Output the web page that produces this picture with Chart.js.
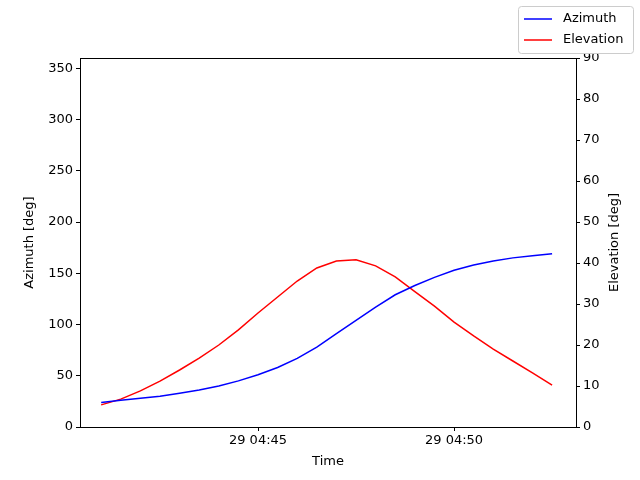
<!DOCTYPE html>
<html><head>
<script src="https://cdn.jsdelivr.net/npm/chart.js@4.4.1/dist/chart.umd.min.js"></script>
<style>html,body{margin:0;background:#fff}#wrap{width:640px;height:480px}</style>
</head><body><div id="wrap"><canvas id="c" width="640" height="480"></canvas></div>
<script>
// minutes after 04:00 on day 29, one sample every 30 s
const minutes = Array.from({length:24}, (_, i) => 41 + i * 0.5);
const azimuth = [24,26,28,30,33,36,40,45,51,58,67,78,91,104,117,129,138,146,153,158,162,165,167,169];
const elevation = [5.4,6.8,8.8,11.2,13.9,16.8,20,23.7,27.8,31.7,35.6,38.8,40.5,40.8,39.3,36.6,33,29.5,25.6,22.2,19,16.1,13.2,10.2];
const timeTicks = [45, 50];
const azTicks = [0,50,100,150,200,250,300,350];
const elTicks = [0,10,20,30,40,50,60,70,80,90];

const font = {family:"DejaVu Sans", size:13};
const pts = arr => arr.map((v,i) => ({x: minutes[i], y: v}));
const grid = {drawOnChartArea:false, color:"#000", tickLength:4, tickWidth:1};

const decorations = {
  id: "decorations",
  afterDraw(chart) {
    const ctx = chart.ctx, a = chart.chartArea;
    ctx.save();
    ctx.strokeStyle = "#000"; ctx.lineWidth = 1;
    ctx.beginPath(); ctx.moveTo(a.left, a.top + 0.5); ctx.lineTo(a.right, a.top + 0.5); ctx.stroke();
    ctx.font = "13px DejaVu Sans"; ctx.fillStyle = "#000";
    ctx.textAlign = "center"; ctx.textBaseline = "middle";
    ctx.fillText("Time", (a.left + a.right) / 2, 462);
    [["Azimuth [deg]", 30], ["Elevation [deg]", 615]].forEach(([t, x]) => {
      ctx.save(); ctx.translate(x, (a.top + a.bottom) / 2); ctx.rotate(-Math.PI / 2);
      ctx.fillText(t, 0, 0); ctx.restore();
    });
    // legend
    ctx.fillStyle = "#fff"; ctx.strokeStyle = "#ccc";
    ctx.beginPath(); ctx.roundRect(518.5, 6.5, 115, 47, 3); ctx.fill(); ctx.stroke();
    ctx.textAlign = "left"; ctx.fillStyle = "#000";
    [["Azimuth", "blue", 19], ["Elevation", "red", 40]].forEach(([t, c, y]) => {
      ctx.strokeStyle = c; ctx.lineWidth = 1.5;
      ctx.beginPath(); ctx.moveTo(524, y); ctx.lineTo(552, y); ctx.stroke();
      ctx.fillText(t, 563, y);
    });
    ctx.restore();
  }
};

new Chart(document.getElementById("c"), {
  type: "line",
  data: { datasets: [
    {label:"Azimuth", data: pts(azimuth), borderColor:"blue", borderWidth:1.5, pointRadius:0, yAxisID:"y"},
    {label:"Elevation", data: pts(elevation), borderColor:"red", borderWidth:1.5, pointRadius:0, yAxisID:"y1"}
  ]},
  options: {
    responsive:false, animation:false,
    layout:{padding:{top:58, left:0, right:0, bottom:0}},
    plugins:{legend:{display:false}, tooltip:{enabled:false}},
    scales:{
      x:{type:"linear", min:40.46, max:53.11,
        afterBuildTicks: s => { s.ticks = timeTicks.map(v => ({value:v})); },
        afterFit: s => { s.height = 53; },
        ticks:{font, color:"#000", padding:2, maxRotation:0, callback: v => "29 04:" + String(v).padStart(2,"0")},
        grid, border:{color:"#000"}},
      y:{position:"left", min:0, max:360,
        afterBuildTicks: s => { s.ticks = azTicks.map(v => ({value:v})); },
        afterFit: s => { s.width = 80; },
        ticks:{font, color:"#000", padding:3}, grid, border:{color:"#000"}},
      y1:{position:"right", min:0, max:90,
        afterBuildTicks: s => { s.ticks = elTicks.map(v => ({value:v})); },
        afterFit: s => { s.width = 64; },
        ticks:{font, color:"#000", padding:3}, grid, border:{color:"#000"}}
    }
  },
  plugins:[decorations]
});
</script></body></html>
